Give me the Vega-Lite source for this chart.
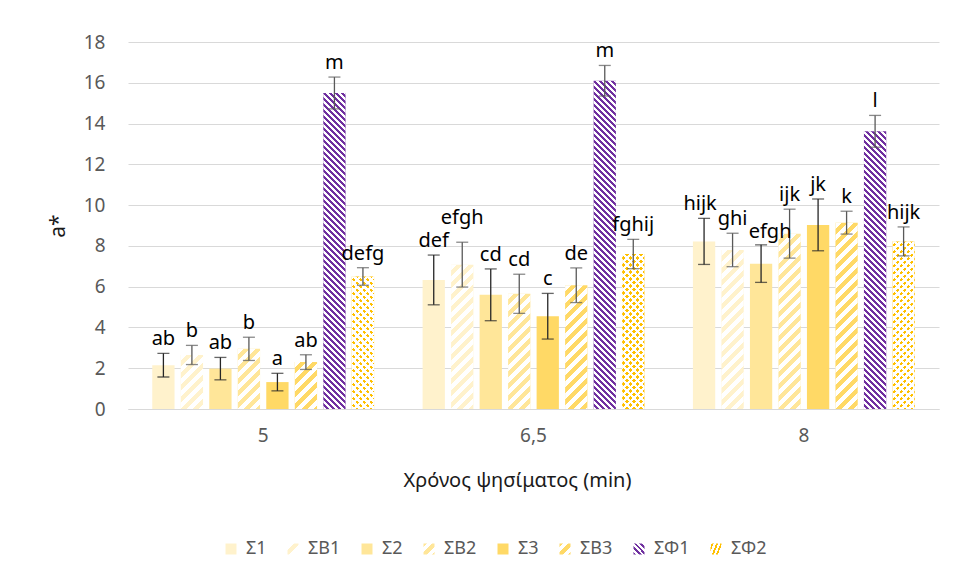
{
  "$schema": "https://vega.github.io/schema/vega-lite/v6.json",
  "width": 811,
  "height": 367,
  "autosize": {"type": "none"},
  "padding": {"left": 128, "top": 42, "right": 16, "bottom": 172},
  "background": "white",
  "config": {"view": {"stroke": null}, "font": "Noto Sans"},
  "params": [
    {"name": "stripes", "expr": "[{offset:0,color:'#fff'},{offset:1/128,color:'#fff'},{offset:1/128,color:'#fff0'},{offset:2/128,color:'#fff0'},{offset:2/128,color:'#fff'},{offset:3/128,color:'#fff'},{offset:3/128,color:'#fff0'},{offset:4/128,color:'#fff0'},{offset:4/128,color:'#fff'},{offset:5/128,color:'#fff'},{offset:5/128,color:'#fff0'},{offset:6/128,color:'#fff0'},{offset:6/128,color:'#fff'},{offset:7/128,color:'#fff'},{offset:7/128,color:'#fff0'},{offset:8/128,color:'#fff0'},{offset:8/128,color:'#fff'},{offset:9/128,color:'#fff'},{offset:9/128,color:'#fff0'},{offset:10/128,color:'#fff0'},{offset:10/128,color:'#fff'},{offset:11/128,color:'#fff'},{offset:11/128,color:'#fff0'},{offset:12/128,color:'#fff0'},{offset:12/128,color:'#fff'},{offset:13/128,color:'#fff'},{offset:13/128,color:'#fff0'},{offset:14/128,color:'#fff0'},{offset:14/128,color:'#fff'},{offset:15/128,color:'#fff'},{offset:15/128,color:'#fff0'},{offset:16/128,color:'#fff0'},{offset:16/128,color:'#fff'},{offset:17/128,color:'#fff'},{offset:17/128,color:'#fff0'},{offset:18/128,color:'#fff0'},{offset:18/128,color:'#fff'},{offset:19/128,color:'#fff'},{offset:19/128,color:'#fff0'},{offset:20/128,color:'#fff0'},{offset:20/128,color:'#fff'},{offset:21/128,color:'#fff'},{offset:21/128,color:'#fff0'},{offset:22/128,color:'#fff0'},{offset:22/128,color:'#fff'},{offset:23/128,color:'#fff'},{offset:23/128,color:'#fff0'},{offset:24/128,color:'#fff0'},{offset:24/128,color:'#fff'},{offset:25/128,color:'#fff'},{offset:25/128,color:'#fff0'},{offset:26/128,color:'#fff0'},{offset:26/128,color:'#fff'},{offset:27/128,color:'#fff'},{offset:27/128,color:'#fff0'},{offset:28/128,color:'#fff0'},{offset:28/128,color:'#fff'},{offset:29/128,color:'#fff'},{offset:29/128,color:'#fff0'},{offset:30/128,color:'#fff0'},{offset:30/128,color:'#fff'},{offset:31/128,color:'#fff'},{offset:31/128,color:'#fff0'},{offset:32/128,color:'#fff0'},{offset:32/128,color:'#fff'},{offset:33/128,color:'#fff'},{offset:33/128,color:'#fff0'},{offset:34/128,color:'#fff0'},{offset:34/128,color:'#fff'},{offset:35/128,color:'#fff'},{offset:35/128,color:'#fff0'},{offset:36/128,color:'#fff0'},{offset:36/128,color:'#fff'},{offset:37/128,color:'#fff'},{offset:37/128,color:'#fff0'},{offset:38/128,color:'#fff0'},{offset:38/128,color:'#fff'},{offset:39/128,color:'#fff'},{offset:39/128,color:'#fff0'},{offset:40/128,color:'#fff0'},{offset:40/128,color:'#fff'},{offset:41/128,color:'#fff'},{offset:41/128,color:'#fff0'},{offset:42/128,color:'#fff0'},{offset:42/128,color:'#fff'},{offset:43/128,color:'#fff'},{offset:43/128,color:'#fff0'},{offset:44/128,color:'#fff0'},{offset:44/128,color:'#fff'},{offset:45/128,color:'#fff'},{offset:45/128,color:'#fff0'},{offset:46/128,color:'#fff0'},{offset:46/128,color:'#fff'},{offset:47/128,color:'#fff'},{offset:47/128,color:'#fff0'},{offset:48/128,color:'#fff0'},{offset:48/128,color:'#fff'},{offset:49/128,color:'#fff'},{offset:49/128,color:'#fff0'},{offset:50/128,color:'#fff0'},{offset:50/128,color:'#fff'},{offset:51/128,color:'#fff'},{offset:51/128,color:'#fff0'},{offset:52/128,color:'#fff0'},{offset:52/128,color:'#fff'},{offset:53/128,color:'#fff'},{offset:53/128,color:'#fff0'},{offset:54/128,color:'#fff0'},{offset:54/128,color:'#fff'},{offset:55/128,color:'#fff'},{offset:55/128,color:'#fff0'},{offset:56/128,color:'#fff0'},{offset:56/128,color:'#fff'},{offset:57/128,color:'#fff'},{offset:57/128,color:'#fff0'},{offset:58/128,color:'#fff0'},{offset:58/128,color:'#fff'},{offset:59/128,color:'#fff'},{offset:59/128,color:'#fff0'},{offset:60/128,color:'#fff0'},{offset:60/128,color:'#fff'},{offset:61/128,color:'#fff'},{offset:61/128,color:'#fff0'},{offset:62/128,color:'#fff0'},{offset:62/128,color:'#fff'},{offset:63/128,color:'#fff'},{offset:63/128,color:'#fff0'},{offset:64/128,color:'#fff0'},{offset:64/128,color:'#fff'},{offset:65/128,color:'#fff'},{offset:65/128,color:'#fff0'},{offset:66/128,color:'#fff0'},{offset:66/128,color:'#fff'},{offset:67/128,color:'#fff'},{offset:67/128,color:'#fff0'},{offset:68/128,color:'#fff0'},{offset:68/128,color:'#fff'},{offset:69/128,color:'#fff'},{offset:69/128,color:'#fff0'},{offset:70/128,color:'#fff0'},{offset:70/128,color:'#fff'},{offset:71/128,color:'#fff'},{offset:71/128,color:'#fff0'},{offset:72/128,color:'#fff0'},{offset:72/128,color:'#fff'},{offset:73/128,color:'#fff'},{offset:73/128,color:'#fff0'},{offset:74/128,color:'#fff0'},{offset:74/128,color:'#fff'},{offset:75/128,color:'#fff'},{offset:75/128,color:'#fff0'},{offset:76/128,color:'#fff0'},{offset:76/128,color:'#fff'},{offset:77/128,color:'#fff'},{offset:77/128,color:'#fff0'},{offset:78/128,color:'#fff0'},{offset:78/128,color:'#fff'},{offset:79/128,color:'#fff'},{offset:79/128,color:'#fff0'},{offset:80/128,color:'#fff0'},{offset:80/128,color:'#fff'},{offset:81/128,color:'#fff'},{offset:81/128,color:'#fff0'},{offset:82/128,color:'#fff0'},{offset:82/128,color:'#fff'},{offset:83/128,color:'#fff'},{offset:83/128,color:'#fff0'},{offset:84/128,color:'#fff0'},{offset:84/128,color:'#fff'},{offset:85/128,color:'#fff'},{offset:85/128,color:'#fff0'},{offset:86/128,color:'#fff0'},{offset:86/128,color:'#fff'},{offset:87/128,color:'#fff'},{offset:87/128,color:'#fff0'},{offset:88/128,color:'#fff0'},{offset:88/128,color:'#fff'},{offset:89/128,color:'#fff'},{offset:89/128,color:'#fff0'},{offset:90/128,color:'#fff0'},{offset:90/128,color:'#fff'},{offset:91/128,color:'#fff'},{offset:91/128,color:'#fff0'},{offset:92/128,color:'#fff0'},{offset:92/128,color:'#fff'},{offset:93/128,color:'#fff'},{offset:93/128,color:'#fff0'},{offset:94/128,color:'#fff0'},{offset:94/128,color:'#fff'},{offset:95/128,color:'#fff'},{offset:95/128,color:'#fff0'},{offset:96/128,color:'#fff0'},{offset:96/128,color:'#fff'},{offset:97/128,color:'#fff'},{offset:97/128,color:'#fff0'},{offset:98/128,color:'#fff0'},{offset:98/128,color:'#fff'},{offset:99/128,color:'#fff'},{offset:99/128,color:'#fff0'},{offset:100/128,color:'#fff0'},{offset:100/128,color:'#fff'},{offset:101/128,color:'#fff'},{offset:101/128,color:'#fff0'},{offset:102/128,color:'#fff0'},{offset:102/128,color:'#fff'},{offset:103/128,color:'#fff'},{offset:103/128,color:'#fff0'},{offset:104/128,color:'#fff0'},{offset:104/128,color:'#fff'},{offset:105/128,color:'#fff'},{offset:105/128,color:'#fff0'},{offset:106/128,color:'#fff0'},{offset:106/128,color:'#fff'},{offset:107/128,color:'#fff'},{offset:107/128,color:'#fff0'},{offset:108/128,color:'#fff0'},{offset:108/128,color:'#fff'},{offset:109/128,color:'#fff'},{offset:109/128,color:'#fff0'},{offset:110/128,color:'#fff0'},{offset:110/128,color:'#fff'},{offset:111/128,color:'#fff'},{offset:111/128,color:'#fff0'},{offset:112/128,color:'#fff0'},{offset:112/128,color:'#fff'},{offset:113/128,color:'#fff'},{offset:113/128,color:'#fff0'},{offset:114/128,color:'#fff0'},{offset:114/128,color:'#fff'},{offset:115/128,color:'#fff'},{offset:115/128,color:'#fff0'},{offset:116/128,color:'#fff0'},{offset:116/128,color:'#fff'},{offset:117/128,color:'#fff'},{offset:117/128,color:'#fff0'},{offset:118/128,color:'#fff0'},{offset:118/128,color:'#fff'},{offset:119/128,color:'#fff'},{offset:119/128,color:'#fff0'},{offset:120/128,color:'#fff0'},{offset:120/128,color:'#fff'},{offset:121/128,color:'#fff'},{offset:121/128,color:'#fff0'},{offset:122/128,color:'#fff0'},{offset:122/128,color:'#fff'},{offset:123/128,color:'#fff'},{offset:123/128,color:'#fff0'},{offset:124/128,color:'#fff0'},{offset:124/128,color:'#fff'},{offset:125/128,color:'#fff'},{offset:125/128,color:'#fff0'},{offset:126/128,color:'#fff0'},{offset:126/128,color:'#fff'},{offset:127/128,color:'#fff'},{offset:127/128,color:'#fff0'},{offset:1,color:'#fff0'}]"}
  ],
  "data": {
    "values": [
      {"t": "5", "s": "Σ1", "m": 2.15, "e": 0.58, "lab": "ab"},
      {"t": "5", "s": "ΣB1", "m": 2.65, "e": 0.47, "lab": "b"},
      {"t": "5", "s": "Σ2", "m": 1.98, "e": 0.55, "lab": "ab"},
      {"t": "5", "s": "ΣB2", "m": 2.95, "e": 0.57, "lab": "b"},
      {"t": "5", "s": "Σ3", "m": 1.32, "e": 0.43, "lab": "a"},
      {"t": "5", "s": "ΣB3", "m": 2.3, "e": 0.36, "lab": "ab"},
      {"t": "5", "s": "ΣΦ1", "m": 15.5, "e": 0.78, "lab": "m"},
      {"t": "5", "s": "ΣΦ2", "m": 6.5, "e": 0.43, "lab": "defg"},
      {"t": "6,5", "s": "Σ1", "m": 6.33, "e": 1.22, "lab": "def"},
      {"t": "6,5", "s": "ΣB1", "m": 7.08, "e": 1.1, "lab": "efgh"},
      {"t": "6,5", "s": "Σ2", "m": 5.6, "e": 1.27, "lab": "cd"},
      {"t": "6,5", "s": "ΣB2", "m": 5.65, "e": 0.96, "lab": "cd"},
      {"t": "6,5", "s": "Σ3", "m": 4.55, "e": 1.12, "lab": "c"},
      {"t": "6,5", "s": "ΣB3", "m": 6.07, "e": 0.85, "lab": "de"},
      {"t": "6,5", "s": "ΣΦ1", "m": 16.1, "e": 0.75, "lab": "m"},
      {"t": "6,5", "s": "ΣΦ2", "m": 7.6, "e": 0.72, "lab": "fghij"},
      {"t": "8", "s": "Σ1", "m": 8.22, "e": 1.13, "lab": "hijk"},
      {"t": "8", "s": "ΣB1", "m": 7.8, "e": 0.82, "lab": "ghi"},
      {"t": "8", "s": "Σ2", "m": 7.13, "e": 0.92, "lab": "efgh"},
      {"t": "8", "s": "ΣB2", "m": 8.6, "e": 1.2, "lab": "ijk"},
      {"t": "8", "s": "Σ3", "m": 9.03, "e": 1.27, "lab": "jk"},
      {"t": "8", "s": "ΣB3", "m": 9.14, "e": 0.56, "lab": "k"},
      {"t": "8", "s": "ΣΦ1", "m": 13.62, "e": 0.78, "lab": "l"},
      {"t": "8", "s": "ΣΦ2", "m": 8.22, "e": 0.71, "lab": "hijk"}
    ]
  },
  "transform": [
    {"calculate": "datum.m - datum.e", "as": "lo"},
    {"calculate": "datum.m + datum.e", "as": "hi"},
    {"calculate": "datum.m * 367 / 18", "as": "h"},
    {"calculate": "(datum.s == 'ΣΦ1' ? 6 : datum.s == 'ΣΦ2' ? 7 : 12) * 64", "as": "L"},
    {"calculate": "datum.L / (22.29 * 22.29 + datum.h * datum.h)", "as": "k"},
    {"calculate": "{gradient: 'linear', x1: 0, y1: 0, x2: datum.k * 22.29, y2: datum.k * datum.h, stops: stripes}", "as": "gu"},
    {"calculate": "{gradient: 'linear', x1: 0, y1: 1, x2: datum.k * 22.29, y2: 1 - datum.k * datum.h, stops: stripes}", "as": "gd"}
  ],
  "encoding": {
    "x": {
      "field": "t",
      "type": "nominal",
      "sort": ["5", "6,5", "8"],
      "scale": {"paddingInner": 0, "paddingOuter": 0, "round": false},
      "axis": {
        "title": "Χρόνος ψησίματος (min)",
        "labelAngle": 0,
        "ticks": false,
        "domain": true,
        "domainColor": "#d9d9d9",
        "domainWidth": 1,
        "labelColor": "#595959",
        "labelFont": "Noto Sans",
        "labelFontSize": 19,
        "labelPadding": 17,
        "titleFont": "Noto Sans",
        "titleFontSize": 20,
        "titleFontWeight": "normal",
        "titleColor": "#1a1a1a",
        "titlePadding": 25,
        "titleX": 389
      }
    },
    "xOffset": {
      "field": "s",
      "type": "nominal",
      "scale": {"domain": ["Σ1", "ΣB1", "Σ2", "ΣB2", "Σ3", "ΣB3", "ΣΦ1", "ΣΦ2"], "paddingInner": 0.218, "paddingOuter": 0.851, "round": false}
    }
  },
  "layer": [
    {
      "transform": [{"filter": "false"}],
      "mark": {"type": "bar"},
      "encoding": {
        "y": {"field": "m", "type": "quantitative", "stack": null},
        "color": {
          "field": "s",
          "type": "nominal",
          "scale": {
            "domain": ["Σ1", "ΣB1", "Σ2", "ΣB2", "Σ3", "ΣB3", "ΣΦ1", "ΣΦ2"],
            "range": [
              "#FFF2CC",
              {"expr": "{gradient:'linear',x1:0,y1:0,x2:1,y2:1,stops:[{offset:0,color:'#fff'},{offset:0.3,color:'#fff'},{offset:0.3,color:'#FFF2CC'},{offset:0.55,color:'#FFF2CC'},{offset:0.55,color:'#fff'},{offset:1,color:'#fff'}]}"},
              "#FFE699",
              {"expr": "{gradient:'linear',x1:0,y1:0,x2:1,y2:1,stops:[{offset:0,color:'#FFE699'},{offset:0.15,color:'#FFE699'},{offset:0.15,color:'#fff'},{offset:0.4,color:'#fff'},{offset:0.4,color:'#FFE699'},{offset:0.65,color:'#FFE699'},{offset:0.65,color:'#fff'},{offset:0.9,color:'#fff'},{offset:0.9,color:'#FFE699'},{offset:1,color:'#FFE699'}]}"},
              "#FFD966",
              {"expr": "{gradient:'linear',x1:0,y1:0,x2:1,y2:1,stops:[{offset:0,color:'#FFD966'},{offset:0.15,color:'#FFD966'},{offset:0.15,color:'#fff'},{offset:0.4,color:'#fff'},{offset:0.4,color:'#FFD966'},{offset:0.65,color:'#FFD966'},{offset:0.65,color:'#fff'},{offset:0.9,color:'#fff'},{offset:0.9,color:'#FFD966'},{offset:1,color:'#FFD966'}]}"},
              {"expr": "{gradient:'linear',x1:0,y1:1,x2:1,y2:0,stops:[{offset:0,color:'#7030A0'},{offset:0.125,color:'#7030A0'},{offset:0.125,color:'#fff'},{offset:0.25,color:'#fff'},{offset:0.25,color:'#7030A0'},{offset:0.375,color:'#7030A0'},{offset:0.375,color:'#fff'},{offset:0.5,color:'#fff'},{offset:0.5,color:'#7030A0'},{offset:0.625,color:'#7030A0'},{offset:0.625,color:'#fff'},{offset:0.75,color:'#fff'},{offset:0.75,color:'#7030A0'},{offset:0.875,color:'#7030A0'},{offset:0.875,color:'#fff'},{offset:1,color:'#fff'}]}"},
              {"expr": "{gradient:'linear',x1:0,y1:0,x2:1,y2:0.4,stops:[{offset:0,color:'#fff'},{offset:0.1,color:'#fff'},{offset:0.1,color:'#FFC000'},{offset:0.25,color:'#FFC000'},{offset:0.25,color:'#fff'},{offset:0.45,color:'#fff'},{offset:0.45,color:'#FFC000'},{offset:0.6,color:'#FFC000'},{offset:0.6,color:'#fff'},{offset:0.78,color:'#fff'},{offset:0.78,color:'#FFC000'},{offset:0.92,color:'#FFC000'},{offset:0.92,color:'#fff'},{offset:1,color:'#fff'}]}"}
            ]
          },
          "legend": {
            "orient": "none",
            "legendX": 94,
            "legendY": 498,
            "direction": "horizontal",
            "title": null,
            "symbolType": "square",
            "symbolSize": 121,
            "symbolStrokeWidth": 0,
            "labelFont": "Noto Sans",
            "labelFontSize": 18,
            "labelColor": "#595959",
            "labelOffset": 6,
            "columnPadding": 17
          }
        }
      }
    },
    {
      "mark": {"type": "bar"},
      "encoding": {
        "y": {
          "field": "m",
          "type": "quantitative",
          "stack": null,
          "scale": {"domain": [0, 18], "nice": false, "zero": true},
          "axis": {
            "title": "a*",
            "values": [0, 2, 4, 6, 8, 10, 12, 14, 16, 18],
            "grid": true,
            "gridColor": "#d9d9d9",
            "gridWidth": 1,
            "domain": false,
            "ticks": false,
            "tickSize": 0,
            "labelPadding": 23,
            "labelColor": "#595959",
            "labelFont": "Noto Sans",
            "labelFontSize": 19,
            "titleFont": "Noto Sans",
            "titleFontSize": 21,
            "titleFontWeight": "normal",
            "titleColor": "#1a1a1a",
            "titlePadding": 15
          }
        },
        "fill": {
          "field": "s",
          "type": "nominal",
          "scale": {
            "domain": ["Σ1", "ΣB1", "Σ2", "ΣB2", "Σ3", "ΣB3", "ΣΦ1", "ΣΦ2"],
            "range": ["#FFF2CC", "#FFF2CC", "#FFE699", "#FFE699", "#FFD966", "#FFD966", "#7030A0", "#FFC000"]
          },
          "legend": null
        }
      }
    },
    {
      "transform": [{"filter": "indexof(['ΣB1','ΣB2','ΣB3','ΣΦ2'], datum.s) >= 0"}],
      "mark": {"type": "bar"},
      "encoding": {
        "y": {"field": "m", "type": "quantitative", "stack": null},
        "fill": {"field": "gu", "type": "nominal", "scale": null}
      }
    },
    {
      "transform": [{"filter": "datum.s == 'ΣΦ1' || datum.s == 'ΣΦ2'"}],
      "mark": {"type": "bar"},
      "encoding": {
        "y": {"field": "m", "type": "quantitative", "stack": null},
        "fill": {"field": "gd", "type": "nominal", "scale": null}
      }
    },
    {
      "mark": {"type": "rule", "strokeWidth": 1.3},
      "encoding": {
        "y": {"field": "lo", "type": "quantitative"},
        "y2": {"field": "hi"},
        "stroke": {"condition": {"test": "indexof(['Σ1','Σ2','Σ3'], datum.s) >= 0", "value": "#262626"}, "value": "#595959"}
      }
    },
    {
      "mark": {"type": "tick", "thickness": 1.3, "size": 12},
      "encoding": {
        "y": {"field": "lo", "type": "quantitative"},
        "color": {"condition": {"test": "indexof(['Σ1','Σ2','Σ3'], datum.s) >= 0", "value": "#262626"}, "value": "#595959"}
      }
    },
    {
      "mark": {"type": "tick", "thickness": 1.3, "size": 12},
      "encoding": {
        "y": {"field": "hi", "type": "quantitative"},
        "color": {"condition": {"test": "indexof(['Σ1','Σ2','Σ3'], datum.s) >= 0", "value": "#262626"}, "value": "#595959"}
      }
    },
    {
      "transform": [{"filter": "!(datum.t == '6,5' && datum.s == 'ΣB1') && !(datum.t == '8' && (datum.s == 'Σ1' || datum.s == 'Σ2'))"}],
      "mark": {"type": "text", "baseline": "alphabetic", "dy": -8, "font": "Noto Sans", "fontSize": 20, "color": "#000000"},
      "encoding": {
        "y": {"field": "hi", "type": "quantitative"},
        "text": {"field": "lab"}
      }
    },
    {
      "transform": [{"filter": "datum.t == '6,5' && datum.s == 'ΣB1'"}],
      "mark": {"type": "text", "baseline": "alphabetic", "dy": -18, "font": "Noto Sans", "fontSize": 20, "color": "#000000"},
      "encoding": {
        "y": {"field": "hi", "type": "quantitative"},
        "text": {"field": "lab"}
      }
    },
    {
      "transform": [{"filter": "datum.t == '8' && datum.s == 'Σ1'"}],
      "mark": {"type": "text", "baseline": "alphabetic", "dy": -8, "dx": -4, "font": "Noto Sans", "fontSize": 20, "color": "#000000"},
      "encoding": {
        "y": {"field": "hi", "type": "quantitative"},
        "text": {"field": "lab"}
      }
    },
    {
      "transform": [{"filter": "datum.t == '8' && datum.s == 'Σ2'"}],
      "mark": {"type": "text", "baseline": "alphabetic", "dy": -7, "dx": 9, "font": "Noto Sans", "fontSize": 20, "color": "#000000"},
      "encoding": {
        "y": {"field": "hi", "type": "quantitative"},
        "text": {"field": "lab"}
      }
    }
  ]
}
